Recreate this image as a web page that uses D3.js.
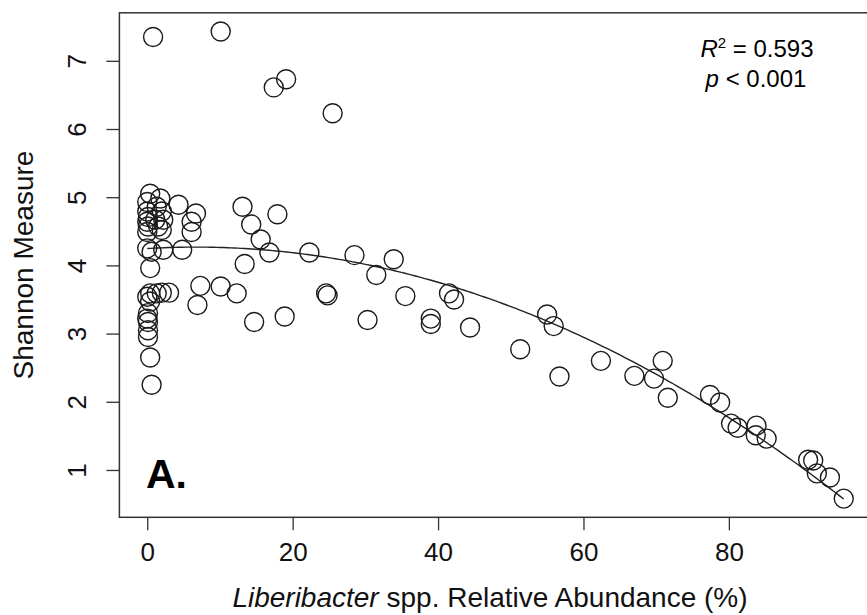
<!DOCTYPE html>
<html>
<head>
<meta charset="utf-8">
<script src="https://cdn.jsdelivr.net/npm/d3@7"></script>
<style>
  body { margin: 0; background: #fff; }
  svg { display: block; font-family: "Liberation Sans", Arial, Helvetica, sans-serif; }
</style>
</head>
<body>
<svg id="chart" width="867" height="615"></svg>
<script>
// Liberibacter relative abundance (%) vs Shannon measure
const abundance = [
  0.8, 10.1, 17.4, 19.1, 25.5,
  0.4, 1.8, 0.0, 1.3, 0.0, 2.0, 0.1, 1.1, 2.2, 0.0, 0.1, 1.5, 0.0, 2.0,
  4.3, 6.7, 6.1, 6.1,
  0.0, 0.6, 2.2, 4.8, 0.4,
  13.1, 17.9, 14.3, 15.6, 16.8, 13.4, 22.3, 28.5, 33.9, 31.5,
  7.3, 10.1, 12.3, 6.9, 24.6, 24.8, 35.5, 14.7, 18.9, 30.3, 39.0, 39.0,
  41.5, 42.2, 44.4, 55.0, 55.9, 51.3, 56.7, 62.4, 67.0, 69.7, 70.9, 71.6,
  77.4, 78.8, 80.3, 81.2, 83.8, 83.7, 85.2, 90.9, 91.6, 92.1, 93.9, 95.8,
  0.4, 1.3, 2.0, 3.0, 0.0, 0.4, 0.1, 0.0, 0.1, 0.1, 0.1, 0.4, 0.6
];
const shannon = [
  7.35, 7.43, 6.61, 6.73, 6.23,
  5.05, 4.98, 4.93, 4.86, 4.79, 4.79, 4.71, 4.67, 4.67, 4.64, 4.57, 4.57, 4.49, 4.52,
  4.89, 4.76, 4.64, 4.49,
  4.25, 4.20, 4.23, 4.23, 3.96,
  4.86, 4.75, 4.60, 4.38, 4.19, 4.02, 4.19, 4.15, 4.09, 3.86,
  3.70, 3.69, 3.59, 3.42, 3.59, 3.56, 3.55, 3.17, 3.25, 3.20, 3.22, 3.14,
  3.59, 3.50, 3.09, 3.28, 3.11, 2.77, 2.37, 2.60, 2.38, 2.34, 2.60, 2.06,
  2.10, 1.99, 1.68, 1.62, 1.65, 1.51, 1.46, 1.15, 1.14, 0.95, 0.89, 0.58,
  3.59, 3.59, 3.60, 3.60, 3.54, 3.47, 3.30, 3.22, 3.17, 3.05, 2.95, 2.65, 2.25
];
const xTicks = [0, 20, 40, 60, 80];
const yTicks = [1, 2, 3, 4, 5, 6, 7];

const points = abundance.map((a, i) => ({ x: a, y: shannon[i] }));

const svg = d3.select("#chart");
const box = { left: 119.4, right: 871.6, top: 12.8, bottom: 517.3 };

// R-style 4% padding on the data range
function padded(vals) {
  const [lo, hi] = d3.extent(vals);
  const p = (hi - lo) * 0.04;
  return [lo - p, hi + p];
}

const x = d3.scaleLinear().domain(padded(abundance)).range([box.left, box.right]);
const y = d3.scaleLinear().domain(padded(shannon)).range([box.bottom, box.top]);

// quadratic least squares fit y ~ x + x^2
function quadFit(pts) {
  const S = [[0,0,0],[0,0,0],[0,0,0]], b = [0,0,0];
  pts.forEach(p => {
    const r = [1, p.x, p.x * p.x];
    for (let i = 0; i < 3; i++) {
      b[i] += r[i] * p.y;
      for (let j = 0; j < 3; j++) S[i][j] += r[i] * r[j];
    }
  });
  // gaussian elimination
  const M = S.map((row, i) => row.concat(b[i]));
  for (let c = 0; c < 3; c++) {
    for (let r = c + 1; r < 3; r++) {
      const f = M[r][c] / M[c][c];
      for (let k = c; k < 4; k++) M[r][k] -= f * M[c][k];
    }
  }
  const coef = [0,0,0];
  for (let r = 2; r >= 0; r--) {
    let s = M[r][3];
    for (let k = r + 1; k < 3; k++) s -= M[r][k] * coef[k];
    coef[r] = s / M[r][r];
  }
  return coef;
}
const coef = quadFit(points);
const [x0, x1] = d3.extent(abundance);
const fitPts = d3.range(0, 201).map(i => {
  const xv = x0 + (x1 - x0) * i / 200;
  return [xv, coef[0] + coef[1] * xv + coef[2] * xv * xv];
});

// plot frame
svg.append("rect")
  .attr("x", box.left).attr("y", box.top)
  .attr("width", box.right - box.left).attr("height", box.bottom - box.top)
  .attr("fill", "none").attr("stroke", "#333").attr("stroke-width", 1.5);

// axes
const xAxis = svg.append("g")
  .attr("transform", `translate(0,${box.bottom})`)
  .call(d3.axisBottom(x).tickValues(xTicks).tickSize(13).tickPadding(12).tickFormat(d3.format("d")));
xAxis.select(".domain").remove();
xAxis.selectAll("line").attr("stroke", "#333").attr("stroke-width", 1.3);
xAxis.selectAll("text").attr("font-size", 26).attr("fill", "#111");

const yAxis = svg.append("g")
  .attr("transform", `translate(${box.left},0)`)
  .call(d3.axisLeft(y).tickValues(yTicks).tickSize(13).tickFormat(d3.format("d")));
yAxis.select(".domain").remove();
yAxis.selectAll("line").attr("stroke", "#333").attr("stroke-width", 1.3);
yAxis.selectAll("text")
  .attr("font-size", 26).attr("fill", "#111")
  .attr("text-anchor", "middle")
  .attr("x", 0).attr("dy", null)
  .attr("transform", "translate(-33,0) rotate(-90)");

// fitted curve
svg.append("path")
  .datum(fitPts)
  .attr("fill", "none").attr("stroke", "#222").attr("stroke-width", 1.4)
  .attr("d", d3.line().x(d => x(d[0])).y(d => y(d[1])));

// points
svg.append("g").selectAll("circle")
  .data(points)
  .enter()
  .append("circle")
    .attr("cx", d => x(d.x))
    .attr("cy", d => y(d.y))
    .attr("r", 9.5)
    .attr("fill", "none")
    .attr("stroke", "#1a1a1a")
    .attr("stroke-width", 1.4);

// axis titles
const xt = svg.append("text")
  .attr("x", 490).attr("y", 607)
  .attr("text-anchor", "middle").attr("font-size", 28).attr("fill", "#111");
xt.append("tspan").attr("font-style", "italic").text("Liberibacter");
xt.append("tspan").text(" spp. Relative Abundance (%)");

svg.append("text")
  .attr("transform", `translate(33,${(box.top + box.bottom) / 2}) rotate(-90)`)
  .attr("text-anchor", "middle").attr("font-size", 28).attr("fill", "#111")
  .text("Shannon Measure");

// panel letter
svg.append("text")
  .attr("x", 146).attr("y", 488)
  .attr("font-size", 41).attr("font-weight", "bold").attr("fill", "#000")
  .text("A.");

// stats annotation
const r2 = svg.append("text")
  .attr("x", 757).attr("y", 57)
  .attr("text-anchor", "middle").attr("font-size", 24).attr("fill", "#000");
r2.append("tspan").attr("font-style", "italic").text("R");
r2.append("tspan").attr("font-size", 15).attr("dy", -9).text("2");
r2.append("tspan").attr("dy", 9).text(" = 0.593");

const pv = svg.append("text")
  .attr("x", 756).attr("y", 87)
  .attr("text-anchor", "middle").attr("font-size", 24).attr("fill", "#000");
pv.append("tspan").attr("font-style", "italic").text("p");
pv.append("tspan").text(" < 0.001");
</script>
</body>
</html>
